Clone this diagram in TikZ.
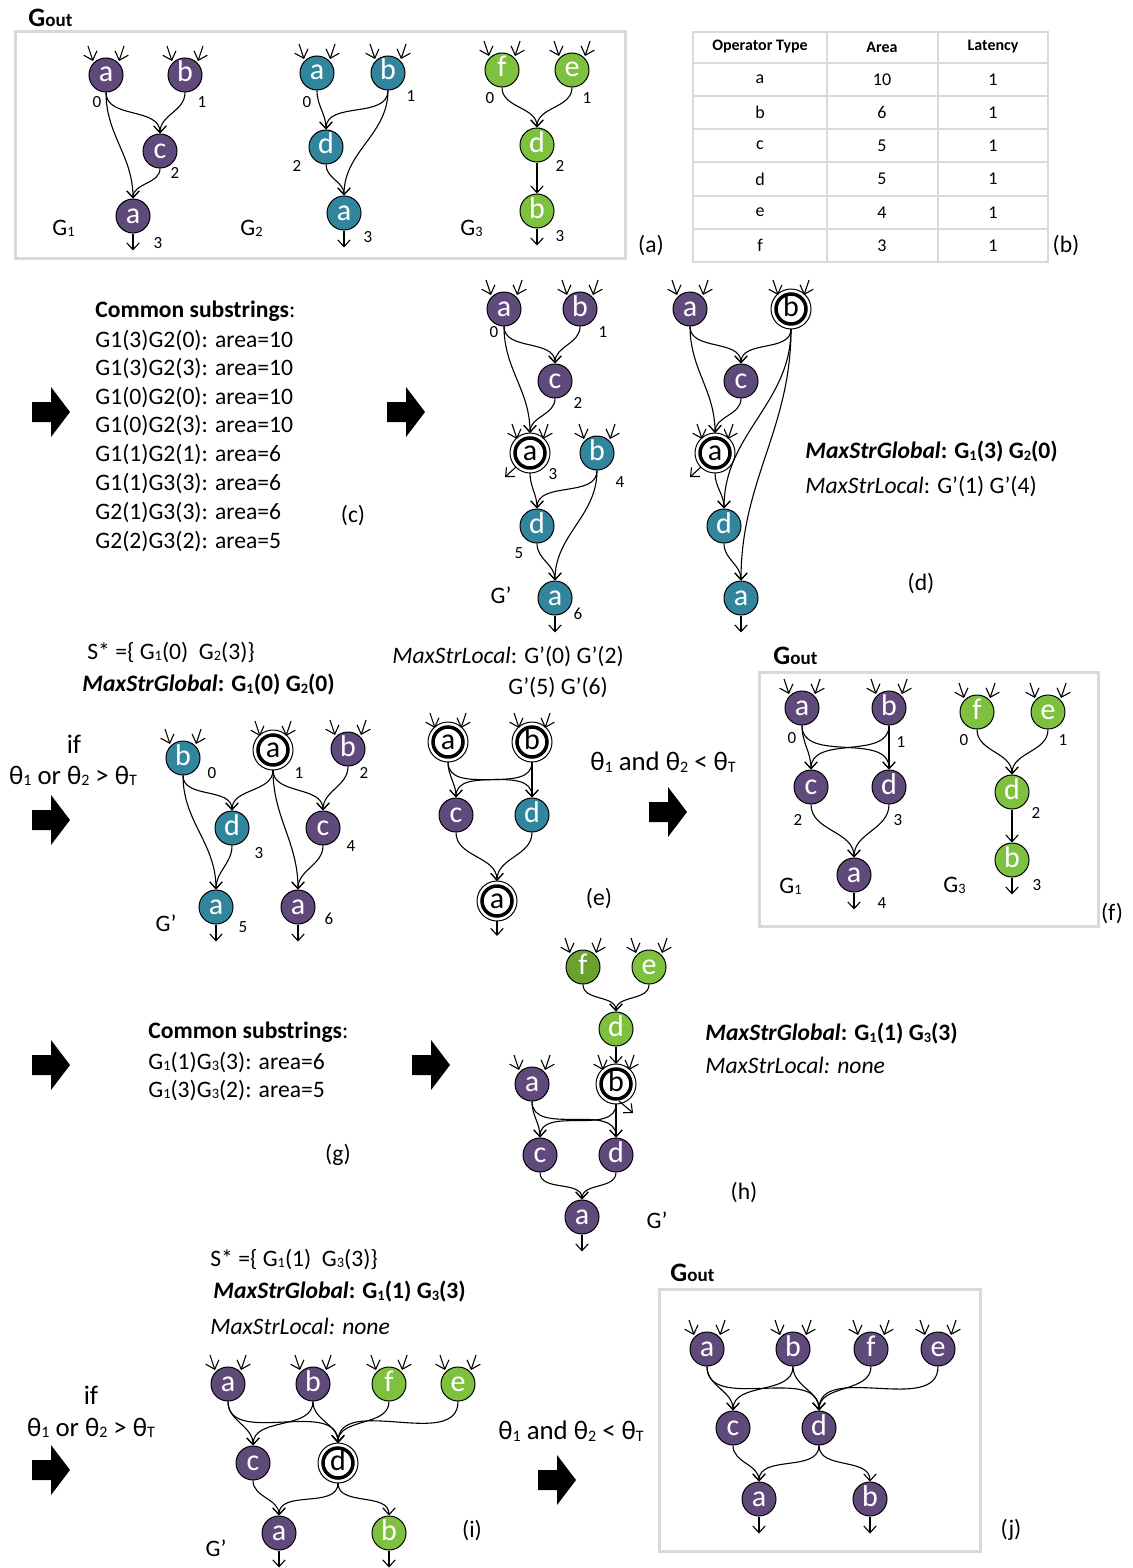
\documentclass[tikz,border=0pt]{standalone}
\usepackage{fontspec}
\setmainfont{Carlito}
\usetikzlibrary{arrows.meta}

\definecolor{opPurple}{HTML}{604A7B}
\definecolor{opTeal}{HTML}{31859C}
\definecolor{opGreen}{HTML}{7DC13F}
\definecolor{opDarkGreen}{HTML}{6AA12F}
\definecolor{boxGray}{HTML}{D9D9D9}

% small lowered index, as in G1 or theta_T
\newcommand\subd[1]{{\fontsize{7.2pt}{7.2pt}\selectfont\raisebox{-0.6pt}{#1}}}
\newcommand\subb[1]{{\fontsize{8pt}{8pt}\selectfont\raisebox{-0.7pt}{#1}}}
% block arrow between stages
\newcommand\stagearrow[2]{\fill[shift={(#1,#2)}] (-19,-10) -- (0,-10) -- (0,-25) -- (19,0) -- (0,25) -- (0,10) -- (-19,10) -- cycle;}
% two incoming operand stubs above a node
\newcommand\instubs[1]{%
  \draw[stub] ([shift={(-18,-29)}]#1.center) -- ([shift={(-13,-14)}]#1.center);
  \draw[stub] ([shift={(18,-29)}]#1.center) -- ([shift={(13,-14)}]#1.center);}
% outgoing result stub below a node
\newcommand\outstub[1]{\draw[arr] (#1.south) -- ++(0,17);}
% data dependency between two operators
\newcommand\deplink[2]{\draw[arr] (#1.south) to[out=-90,in=90] (#2.north);}
% merged operator: thick ring plus thin outer ring
\newcommand\mergednode[3]{\node[mrg] (#1) at (#2) {#3};\draw[line width=0.5pt] (#1.center) circle[radius=10pt];}

\tikzset{
  arr/.style={line width=0.55pt, -{Straight Barb[length=3.4pt,width=6.2pt]}},
  stub/.style={line width=0.55pt, -{Straight Barb[length=3.8pt,width=7pt]}},
  op/.style={circle, draw=black, line width=0.5pt, minimum size=17pt, inner sep=0pt, text=white,
    font=\fontsize{15pt}{15pt}\selectfont, text height=7pt, text depth=0pt},
  pu/.style={op, fill=opPurple},
  te/.style={op, fill=opTeal},
  gr/.style={op, fill=opGreen},
  dg/.style={op, fill=opDarkGreen},
  mrg/.style={circle, draw=black, line width=1.75pt, minimum size=15pt, inner sep=0pt, outer sep=2.5pt,
    fill=white, text=black, font=\fontsize{15pt}{15pt}\selectfont, text height=7pt, text depth=0pt},
  txt/.style={anchor=west, inner sep=0pt, font=\fontsize{11.8pt}{14pt}\selectfont},
  lbl/.style={inner sep=0pt, font=\fontsize{11.8pt}{14pt}\selectfont},
  big/.style={inner sep=0pt, font=\fontsize{13.4pt}{15pt}\selectfont},
  num/.style={inner sep=0pt, font=\fontsize{8.5pt}{9pt}\selectfont},
  hdr/.style={inner sep=0pt, font=\bfseries\fontsize{8pt}{9pt}\selectfont},
  cell/.style={inner sep=0pt, font=\fontsize{9pt}{10pt}\selectfont},
  gbox/.style={draw=boxGray, line width=1.5pt},
  gout/.style={anchor=base west, inner sep=0pt},
}

\begin{document}
\begin{tikzpicture}[x=0.5pt,y=-0.5pt]
\fill[white] (0,0) rectangle (1133,1568);
\useasboundingbox (0,0) rectangle (1133,1568);

%% ---------- (a) initial graphs ----------
\draw[gbox] (15,32) rectangle (625,258);
\node[gout] (goutA) at (28,27) {\bfseries\fontsize{13.3pt}{14pt}\selectfont G\fontsize{9.5pt}{10pt}\selectfont out};
% G1
\node[pu] (a1) at (106,75) {a};
\node[pu] (b1) at (185,75) {b};
\node[pu] (c1) at (160,151) {c};
\node[pu] (z1) at (133,216) {a};
\deplink{a1}{c1}\deplink{b1}{c1}\deplink{a1}{z1}\deplink{c1}{z1}
\instubs{a1}\instubs{b1}\outstub{z1}
\node[num] (la1) at (97,102) {0};
\node[num] (lb1) at (202,102) {1};
\node[num] (lc1) at (175,173) {2};
\node[num] (lz1) at (158,243) {3};
\node[txt] (gA1) at (52,228) {G\subd1};
% G2
\node[te] (a2) at (317,73) {a};
\node[te] (b2) at (388,73) {b};
\node[te] (c2) at (326,147) {d};
\node[te] (z2) at (344,213) {a};
\deplink{a2}{c2}\deplink{b2}{c2}\deplink{b2}{z2}\deplink{c2}{z2}
\instubs{a2}\instubs{b2}\outstub{z2}
\node[num] (la2) at (307,102) {0};
\node[num] (lb2) at (411,96) {1};
\node[num] (lc2) at (297,166) {2};
\node[num] (lz2) at (368,237) {3};
\node[txt] (gA2) at (240,228) {G\subd2};
% G3
\node[gr] (a3) at (502,70) {f};
\node[gr] (b3) at (572,70) {e};
\node[gr] (c3) at (537,145) {d};
\node[gr] (z3) at (537,211) {b};
\deplink{a3}{c3}\deplink{b3}{c3}\deplink{c3}{z3}
\instubs{a3}\instubs{b3}\outstub{z3}
\node[num] (la3) at (490,98) {0};
\node[num] (lb3) at (587,98) {1};
\node[num] (lc3) at (560,166) {2};
\node[num] (lz3) at (560,236) {3};
\node[txt] (gA3) at (460,228) {G\subd3};
\node[lbl] (capA) at (651,246) {(a)};

%% ---------- (b) operator table ----------
\draw[boxGray, line width=1pt] (693,32) rectangle (1048,262);
\foreach \yy in {63,96,129,162,196,229} \draw[boxGray, line width=1pt] (693,\yy) -- (1048,\yy);
\foreach \xx in {827,938} \draw[boxGray, line width=1pt] (\xx,32) -- (\xx,262);
\node[hdr] (h1) at (760,47) {Operator Type};
\node[hdr] (h2) at (882,47) {Area};
\node[hdr] (h3) at (993,47) {Latency};
\foreach \op/\ar/\yy [count=\i] in {a/10/79.5, b/6/112.5, c/5/145.5, d/5/179, e/4/212.5, f/3/245.5} {
  \node[cell] (top\i) at (760,\yy) {\op};
  \node[cell] (tar\i) at (882,\yy) {\ar};
  \node[cell] (tla\i) at (993,\yy) {1};
}
\node[lbl] (capB) at (1066,246) {(b)};

%% ---------- (c) common substrings ----------
\stagearrow{51}{412}
\node[txt] (cs0) at (95,311) {\textbf{Common substrings}:};
\node[txt] (cs1) at (95,341) {G1(3)G2(0): area=10};
\node[txt] (cs2) at (95,369) {G1(3)G2(3): area=10};
\node[txt] (cs3) at (95,398) {G1(0)G2(0): area=10};
\node[txt] (cs4) at (95,426) {G1(0)G2(3): area=10};
\node[txt] (cs5) at (95,455) {G1(1)G2(1): area=6};
\node[txt] (cs6) at (95,484) {G1(1)G3(3): area=6};
\node[txt] (cs7) at (95,513) {G2(1)G3(3): area=6};
\node[txt] (cs8) at (95,542) {G2(2)G3(2): area=5};
\node[lbl] (capC) at (353,515) {(c)};

\stagearrow{406}{412}
\node[pu] (ca0) at (504,309) {a};
\node[pu] (cb1) at (580,309) {b};
\node[pu] (cc2) at (555,381) {c};
\mergednode{ca3}{530,453}{a}
\node[te] (cb4) at (597,453) {b};
\node[te] (cd5) at (537,526) {d};
\node[te] (ca6) at (555,598) {a};
\deplink{ca0}{cc2}\deplink{cb1}{cc2}\deplink{ca0}{ca3}\deplink{cc2}{ca3}
\deplink{ca3}{cd5}\deplink{cb4}{cd5}\deplink{cb4}{ca6}\deplink{cd5}{ca6}
\instubs{ca0}\instubs{cb1}\instubs{ca3}\instubs{cb4}\outstub{ca6}
\draw[arr] ([shift={(-14,14)}]ca3.center) -- ++(-11,10);
\node[num] (lca0) at (494,332) {0};
\node[num] (lcb1) at (603,332) {1};
\node[num] (lcc2) at (578,403) {2};
\node[num] (lca3) at (553,474) {3};
\node[num] (lcb4) at (620,482) {4};
\node[num] (lcd5) at (519,553) {5};
\node[num] (lca6) at (578,614) {6};
\node[lbl] (gpC) at (501,595) {G’};

%% ---------- (d) global merge ----------
\node[pu] (da0) at (690,309) {a};
\mergednode{db1}{791,309}{b}
\node[pu] (dc2) at (741,381) {c};
\mergednode{da3}{715,453}{a}
\node[te] (dd5) at (724,526) {d};
\node[te] (da6) at (741,598) {a};
\deplink{da0}{dc2}\deplink{db1}{dc2}\deplink{da0}{da3}\deplink{dc2}{da3}
\deplink{db1}{dd5}\deplink{db1}{da6}\deplink{da3}{dd5}\deplink{dd5}{da6}
\instubs{da0}\instubs{db1}\instubs{da3}\outstub{da6}
\draw[arr] ([shift={(-14,14)}]da3.center) -- ++(-11,10);
\node[txt] (dg1) at (805,452) {\textbf{\textit{MaxStrGlobal}: G\subd1(3) G\subd2(0)}};
\node[txt] (dl1) at (805,486) {\textit{MaxStrLocal}: G’(1) G’(4)};
\node[lbl] (capD) at (921,583) {(d)};

%% ---------- (e) threshold test and local merge ----------
\node[txt] (es1) at (87,652) {S* =\{ G\subd1(0)\ \ G\subd2(3)\}};
\node[txt] (eg1) at (82,685) {\textbf{\textit{MaxStrGlobal}: G\subd1(0) G\subd2(0)}};
\node[big] (eif) at (74,744) {if};
\node[big] (eth) at (73,776) {θ\subb1 or θ\subb2 > θ\subb{T}};
\stagearrow{51}{820}
\node[te] (eb0) at (183,758) {b};
\mergednode{ea1}{273,750}{a}
\node[pu] (eb2) at (348,749) {b};
\node[te] (ed3) at (232,828) {d};
\node[pu] (ec4) at (323,828) {c};
\node[te] (ea5) at (216,907) {a};
\node[pu] (ea6) at (298,907) {a};
\deplink{eb0}{ed3}\deplink{eb0}{ea5}\deplink{ea1}{ed3}\deplink{ea1}{ec4}
\deplink{ea1}{ea6}\deplink{eb2}{ec4}\deplink{ed3}{ea5}\deplink{ec4}{ea6}
\instubs{eb0}\instubs{ea1}\instubs{eb2}\outstub{ea5}\outstub{ea6}
\node[num] (leb0) at (212,773) {0};
\node[num] (lea1) at (299,773) {1};
\node[num] (leb2) at (364,773) {2};
\node[num] (led3) at (259,853) {3};
\node[num] (lec4) at (351,846) {4};
\node[num] (lea5) at (243,927) {5};
\node[num] (lea6) at (329,919) {6};
\node[lbl] (gpE) at (166,923) {G’};

\node[txt] (el1) at (392,656) {\textit{MaxStrLocal}: G’(0) G’(2)};
\node[txt] (el2) at (508,687) {G’(5) G’(6)};
\mergednode{fa}{448,742}{a}
\mergednode{fb}{532,742}{b}
\node[pu] (fc) at (456,815) {c};
\node[te] (fd) at (532,815) {d};
\mergednode{fz}{497,901}{a}
\deplink{fa}{fc}\deplink{fa}{fd}\deplink{fb}{fc}\deplink{fb}{fd}\deplink{fc}{fz}\deplink{fd}{fz}
\instubs{fa}\instubs{fb}
\draw[arr] (fz.south) -- ++(0,15);
\node[lbl] (capE) at (599,898) {(e)};
\node[big, anchor=west] (eand) at (590,762) {θ\subb1 and θ\subb2 < θ\subb{T}};
\stagearrow{668}{812}

%% ---------- (f) resulting output graphs ----------
\node[gout] (goutF) at (773,664) {\bfseries\fontsize{13.3pt}{14pt}\selectfont G\fontsize{9.5pt}{10pt}\selectfont out};
\draw[gbox] (759,672) rectangle (1098,926);
\node[pu] (ga0) at (802,708) {a};
\node[pu] (gb1) at (889,708) {b};
\node[pu] (gc2) at (811,787) {c};
\node[pu] (gd3) at (889,787) {d};
\node[pu] (ga4) at (854,875) {a};
\deplink{ga0}{gc2}\deplink{ga0}{gd3}\deplink{gb1}{gc2}\deplink{gb1}{gd3}\deplink{gc2}{ga4}\deplink{gd3}{ga4}
\instubs{ga0}\instubs{gb1}\outstub{ga4}
\node[num] (lga0) at (792,738) {0};
\node[num] (lgb1) at (901,742) {1};
\node[num] (lgc2) at (798,820) {2};
\node[num] (lgd3) at (898,820) {3};
\node[num] (lga4) at (882,903) {4};
\node[txt] (gF1) at (779,886) {G\subd1};
\node[gr] (hf0) at (977,712) {f};
\node[gr] (he1) at (1048,712) {e};
\node[gr] (hd2) at (1012,792) {d};
\node[gr] (hb3) at (1012,860) {b};
\deplink{hf0}{hd2}\deplink{he1}{hd2}\deplink{hd2}{hb3}
\instubs{hf0}\instubs{he1}\outstub{hb3}
\node[num] (lhf0) at (964,740) {0};
\node[num] (lhe1) at (1063,740) {1};
\node[num] (lhd2) at (1036,813) {2};
\node[num] (lhb3) at (1037,885) {3};
\node[txt] (gF3) at (943,885) {G\subd3};
\node[lbl] (capF) at (1112,913) {(f)};

%% ---------- (g) remaining substrings ----------
\stagearrow{51}{1065}
\node[txt] (gs0) at (148,1032) {\textbf{Common substrings}:};
\node[txt] (gs1) at (148,1062) {G\subd1(1)G\subd3(3): area=6};
\node[txt] (gs2) at (148,1090) {G\subd1(3)G\subd3(2): area=5};
\node[lbl] (capG) at (338,1155) {(g)};
\stagearrow{431}{1065}

%% ---------- (h) second global merge ----------
\node[dg] (kf) at (583,967) {f};
\node[gr] (ke) at (649,967) {e};
\node[gr] (kg) at (616,1029) {d};
\node[pu] (ka) at (532,1084) {a};
\mergednode{kb}{616,1084}{b}
\node[pu] (kc) at (540,1155) {c};
\node[pu] (kd) at (616,1155) {d};
\node[pu] (kz) at (582,1217) {a};
\deplink{kf}{kg}\deplink{ke}{kg}\deplink{kg}{kb}
\deplink{ka}{kc}\deplink{ka}{kd}\deplink{kb}{kc}\deplink{kb}{kd}\deplink{kc}{kz}\deplink{kd}{kz}
\instubs{kf}\instubs{ke}\instubs{ka}\instubs{kb}\outstub{kz}
\draw[arr] ([shift={(3,17)}]kb.center) -- ++(14,12);
\node[txt] (hg1) at (705,1034) {\textbf{\textit{MaxStrGlobal}: G\subd1(1) G\subd3(3)}};
\node[txt] (hl1) at (705,1065) {\textit{MaxStrLocal: none}};
\node[lbl] (capH) at (744,1192) {(h)};
\node[lbl] (gpH) at (657,1220) {G’};

%% ---------- (i) threshold test ----------
\node[txt] (is1) at (210,1259) {S* =\{ G\subd1(1)\ \ G\subd3(3)\}};
\node[txt] (ig1) at (213,1292) {\textbf{\textit{MaxStrGlobal}: G\subd1(1) G\subd3(3)}};
\node[txt] (il1) at (210,1326) {\textit{MaxStrLocal: none}};
\node[big] (iif) at (91,1395) {if};
\node[big] (ith) at (91,1428) {θ\subb1 or θ\subb2 > θ\subb{T}};
\stagearrow{51}{1470}
\node[pu] (ma) at (228,1384) {a};
\node[pu] (mb) at (313,1384) {b};
\node[gr] (mf) at (389,1384) {f};
\node[gr] (me) at (458,1384) {e};
\node[pu] (mc) at (253,1463) {c};
\mergednode{md}{338,1463}{d}
\node[pu] (mz) at (279,1533) {a};
\node[gr] (mw) at (389,1533) {b};
\deplink{ma}{mc}\deplink{ma}{md}\deplink{mb}{mc}\deplink{mb}{md}\deplink{mf}{md}\deplink{me}{md}
\deplink{mc}{mz}\deplink{md}{mz}\deplink{md}{mw}
\instubs{ma}\instubs{mb}\instubs{mf}\instubs{me}\outstub{mz}\outstub{mw}
\node[lbl] (gpI) at (216,1548) {G’};
\node[lbl] (capI) at (472,1530) {(i)};
\node[big, anchor=west] (iand) at (498,1431) {θ\subb1 and θ\subb2 < θ\subb{T}};
\stagearrow{557}{1480}

%% ---------- (j) final output graph ----------
\node[gout] (goutJ) at (670,1281) {\bfseries\fontsize{13.3pt}{14pt}\selectfont G\fontsize{9.5pt}{10pt}\selectfont out};
\draw[gbox] (659,1289) rectangle (980,1551);
\node[pu] (na) at (707,1349) {a};
\node[pu] (nb) at (793,1349) {b};
\node[pu] (nf) at (871,1349) {f};
\node[pu] (ne) at (938,1349) {e};
\node[pu] (nc) at (733,1428) {c};
\node[pu] (nd) at (819,1428) {d};
\node[pu] (nz) at (759,1499) {a};
\node[pu] (nw) at (870,1499) {b};
\deplink{na}{nc}\deplink{na}{nd}\deplink{nb}{nc}\deplink{nb}{nd}\deplink{nf}{nd}\deplink{ne}{nd}
\deplink{nc}{nz}\deplink{nd}{nz}\deplink{nd}{nw}
\instubs{na}\instubs{nb}\instubs{nf}\instubs{ne}\outstub{nz}\outstub{nw}
\node[lbl] (capJ) at (1011,1530) {(j)};
\end{tikzpicture}
\end{document}
